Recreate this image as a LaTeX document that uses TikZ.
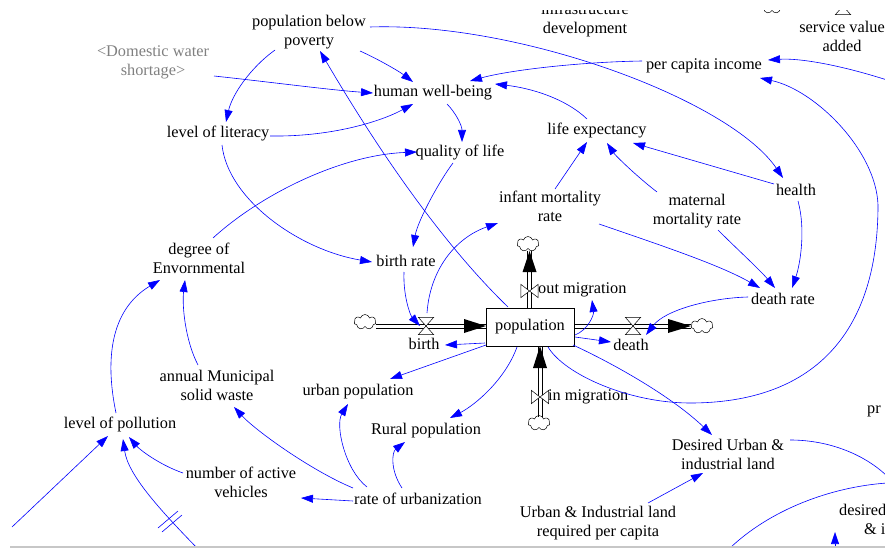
\documentclass[tikz,border=0pt]{standalone}
\usepackage{fontspec}
\setmainfont{Liberation Serif}
\usetikzlibrary{arrows.meta,shapes.symbols}
\definecolor{lnk}{RGB}{0,0,255}
\definecolor{grtxt}{RGB}{128,128,128}
\begin{document}
\begin{tikzpicture}[x=1pt,y=-1pt,
  lbl/.style={font=\fontsize{16.3}{19}\selectfont, align=center, inner sep=0pt},
  conn/.style={draw=lnk, line width=0.6pt, -{Triangle[length=12pt,width=8pt]}},
  link/.style={draw=lnk, line width=0.6pt},
  pipeedge/.style={draw=black, line width=0.7pt},
  valvel/.style={draw=black, fill=white, line width=0.5pt},
  hv/.style={inner sep=0pt, minimum width=15pt, minimum height=17pt},
  vv/.style={inner sep=0pt, minimum width=17pt, minimum height=13pt},
  cloudy/.style={cloud, cloud puffs=7, cloud ignores aspect, draw=black, line width=0.5pt, fill=white, inner sep=0pt, minimum width=22pt, minimum height=15pt},
  stockbox/.style={lbl, draw=black, line width=0.7pt, fill=white, minimum width=88pt, minimum height=38pt}]
\useasboundingbox (0,0) rectangle (885,548);
\clip (0,10.5) rectangle (885,548);

% labels
\node[lbl] (pbp) at (309,32) {population below\\poverty};
\node[lbl,text=grtxt] (dws) at (153,62) {<Domestic water\\shortage>};
\node[lbl] (hwb) at (433,93) {human well-being};
\node[lbl] (lol) at (218,134) {level of literacy};
\node[lbl] (qol) at (460,153) {quality of life};
\node[lbl] (le) at (597,131) {life expectancy};
\node[lbl] (pci) at (704,66) {per capita income};
\node[lbl] (infra) at (585,19.5) {infrastructure\\development};
\node[lbl] (sva) at (842,36) {service value\\added};
\node[lbl] (hl) at (796,190) {health};
\node[lbl] (mmr) at (697,211) {maternal\\mortality rate};
\node[lbl] (imr) at (550,206) {infant mortality\\rate};
\node[lbl] (dr) at (783,299) {death rate};
\node[lbl] (br) at (406,261) {birth rate};
\node[lbl] (doe) at (199,258) {degree of\\Envornmental};
\node[lbl] (up) at (358,392) {urban population};
\node[lbl] (rp) at (426,431) {Rural population};
\node[lbl] (amsw) at (217,385) {annual Municipal\\solid waste};
\node[lbl] (lop) at (120,424) {level of pollution};
\node[lbl] (nav) at (241,482) {number of active\\vehicles};
\node[lbl] (rou) at (418,499) {rate of urbanization};
\node[lbl] (uil) at (598,523) {Urban \& Industrial land\\required per capita};
\node[lbl] (dui) at (728,454) {Desired Urban \&\\industrial land};
\node[lbl,anchor=west] (prt) at (867,411) {pr};
\node[lbl,anchor=west] (des) at (839,510) {desired};
\node[lbl,anchor=west] (desi) at (864,529) {\& i};

% clouds, valves (frames), flow labels
\node[cloudy] (cL) at (365,322) {};
\node[cloudy] (cR) at (702,326) {};
\node[cloudy] (cT) at (528,244) {};
\node[cloudy] (cB) at (539,423) {};
\node[cloudy] (cTop) at (772,6) {};
\node[hv] (bv) at (426,326) {};
\node[hv] (dv) at (633,326) {};
\node[vv] (ov) at (529.5,291) {};
\node[vv] (iv) at (540,397) {};
\node[hv] (sv) at (843,6) {};
\node[lbl] (birth) at (424,344) {birth};
\node[lbl] (death) at (631,345) {death};
\node[lbl,anchor=west] (outm) at (538,290) {out migration};
\node[lbl,anchor=west] (inm) at (548,397) {in migration};

% pipe end points
\coordinate (pb1) at (376,326);
\coordinate (pb2) at (486,326);
\coordinate (pd1) at (574,326);
\coordinate (pd2) at (691,326);
\coordinate (po1) at (529.5,308);
\coordinate (po2) at (529.5,251);
\coordinate (pi1) at (540,417);
\coordinate (pi2) at (540,346);
\coordinate (ps1) at (783,6);
\coordinate (ps2) at (843,6);

% pipes: two parallel edges each
\foreach \a/\b in {pb1/pb2, pd1/pd2, ps1/ps2} {
  \draw[pipeedge] ([yshift=2.1pt]\a) -- ([yshift=2.1pt]\b);
  \draw[pipeedge] ([yshift=-2.1pt]\a) -- ([yshift=-2.1pt]\b);
}
\foreach \a/\b in {po1/po2, pi1/pi2} {
  \draw[pipeedge] ([xshift=2.1pt]\a) -- ([xshift=2.1pt]\b);
  \draw[pipeedge] ([xshift=-2.1pt]\a) -- ([xshift=-2.1pt]\b);
}
\node[stockbox] (pop) at (530,327) {population};
\filldraw[valvel] (bv.north west) -- (bv.north east) -- (bv.south west) -- (bv.south east) -- cycle;
\filldraw[valvel] (dv.north west) -- (dv.north east) -- (dv.south west) -- (dv.south east) -- cycle;
\filldraw[valvel] (sv.north west) -- (sv.north east) -- (sv.south west) -- (sv.south east) -- cycle;
\filldraw[valvel] (ov.north west) -- (ov.south west) -- (ov.north east) -- (ov.south east) -- cycle;
\filldraw[valvel] (iv.north west) -- (iv.south west) -- (iv.north east) -- (iv.south east) -- cycle;
\fill[black] (pb2) -- ++(-22,-7) -- ++(0,14) -- cycle;
\fill[black] (pd2) -- ++(-23,-7) -- ++(0,14) -- cycle;
\fill[black] (po2) -- ++(-7,21) -- ++(14,0) -- cycle;
\fill[black] (pi2) -- ++(-7,22) -- ++(14,0) -- cycle;

% free ends
\coordinate (r1) at (887,80);
\coordinate (r2) at (887,476);
\coordinate (r3) at (887,483);
\coordinate (b1) at (730,548);
\coordinate (b2) at (835,552);
\coordinate (b3) at (199,550);
\coordinate (bl1) at (12,527);
\coordinate (t1) at (786,-8);

% connectors
\draw[conn] ([shift={(51,19)}]pbp.center) .. controls (380,60) and (400,72) .. ([shift={(-20,-11)}]hwb.center);
\draw[conn] ([shift={(-34,18)}]pbp.center) .. controls (250,68) and (232,95) .. ([shift={(8,-12)}]lol.center);
\draw[conn] ([shift={(61,-5)}]pbp.center) .. controls (520,22) and (730,100) .. ([shift={(-13,-12)}]hl.center);
\draw[conn] ([shift={(61,14)}]dws.center) .. controls (270,82) and (330,90) .. ([shift={(-60,0)}]hwb.center);
\draw[conn] ([shift={(52,2)}]lol.center) .. controls (330,137) and (380,122) .. ([shift={(-20,11)}]hwb.center);
\draw[conn] ([shift={(4,11)}]lol.center) .. controls (228,200) and (300,250) .. ([shift={(-34,1)}]br.center);
\draw[conn] ([shift={(14,11)}]hwb.center) .. controls (455,112) and (462,125) .. ([shift={(2,-11)}]qol.center);
\draw[conn] ([shift={(14,-20)}]doe.center) .. controls (260,195) and (340,155) .. ([shift={(-43,-1)}]qol.center);
\draw[conn] ([shift={(-7,10)}]qol.center) .. controls (440,180) and (418,220) .. ([shift={(7,-14)}]br.center);
\draw[conn] ([shift={(-10,-12)}]le.center) .. controls (565,98) and (530,88) .. ([shift={(62,-9)}]hwb.center);
\draw[conn] ([shift={(-62,-5)}]pci.center) .. controls (580,62) and (510,70) .. ([shift={(37,-12)}]hwb.center);
\draw[conn] ([shift={(5,-17)}]imr.center) -- ([shift={(-10,11)}]le.center);
\draw[conn] ([shift={(-40,-19)}]mmr.center) .. controls (635,175) and (615,155) .. ([shift={(10,12)}]le.center);
\draw[conn] ([shift={(-22,-6)}]hl.center) -- ([shift={(36,12)}]le.center);
\draw[conn] ([shift={(2,11)}]hl.center) .. controls (806,230) and (800,265) .. ([shift={(9,-11)}]dr.center);
\draw[conn] ([shift={(21,19)}]mmr.center) .. controls (738,250) and (760,270) .. ([shift={(-8,-11)}]dr.center);
\draw[conn] ([shift={(49,18)}]imr.center) .. controls (660,245) and (720,265) .. ([shift={(-23,-11)}]dr.center);
\draw[conn] ([shift={(-35,-2)}]dr.center) .. controls (710,298) and (665,310) .. ([shift={(13,9)}]dv.center);
\draw[conn] (r1) .. controls (840,65) and (800,58) .. ([shift={(64,-6)}]pci.center);
\draw[conn] ([shift={(18,20)}]pop.center) .. controls (565,375) and (630,403) .. (690,403) .. controls (812,403) and (878,335) .. (878,205) .. controls (876,150) and (815,90) .. ([shift={(56,12)}]pci.center);
\draw[conn] ([shift={(43,18)}]pop.center) .. controls (610,362) and (670,395) .. ([shift={(-16,-19)}]dui.center);
\draw[conn] ([shift={(50,-20)}]uil.center) -- ([shift={(-25,19)}]dui.center);
\draw[link] ([shift={(62,-14)}]dui.center) .. controls (830,440) and (865,455) .. (r2);
\draw[link] (b1) .. controls (770,510) and (830,487) .. (r3);
\draw[conn] (b2) -- ([shift={(-4,22)}]des.west);
\draw[conn] (t1) -- ([shift={(-39,-20)}]sv.center);
\draw[conn] ([shift={(-45,16)}]pop.center) -- ([shift={(21,1)}]birth.center);
\draw[conn] ([shift={(-44,18)}]pop.center) -- ([shift={(32,-13)}]up.center);
\draw[conn] ([shift={(-13,20)}]pop.center) .. controls (505,380) and (475,405) .. ([shift={(24,-13)}]rp.center);
\draw[conn] ([shift={(-2,11)}]br.center) .. controls (403,295) and (410,315) .. ([shift={(-6,0)}]bv.center);
\draw[conn] ([shift={(1,-13)}]bv.center) .. controls (430,270) and (455,238) .. ([shift={(-52,17)}]imr.center);
\draw[conn] ([shift={(-22,-20)}]pop.center) .. controls (451,252) and (388,167) .. ([shift={(11,19)}]pbp.center);
\draw[conn] ([shift={(45,8)}]pop.center) .. controls (588,330) and (594,315) .. ([shift={(54,10)}]outm.west);
\draw[conn] ([shift={(45,10)}]pop.center) -- ([shift={(-20,-3)}]death.center);
\draw[conn] ([shift={(-51,-12)}]rou.center) .. controls (345,470) and (335,425) .. ([shift={(-10,12)}]up.center);
\draw[conn] ([shift={(-16,-11)}]rou.center) .. controls (390,470) and (392,452) .. ([shift={(-21,11)}]rp.center);
\draw[conn] ([shift={(-65,2)}]rou.center) -- ([shift={(60,16)}]nav.center);
\draw[conn] ([shift={(-65,-11)}]rou.center) .. controls (310,470) and (255,430) .. ([shift={(17,22)}]amsw.center);
\draw[conn] ([shift={(-19,-20)}]amsw.center) .. controls (185,340) and (182,305) .. ([shift={(-14,22)}]doe.center);
\draw[conn] ([shift={(-4,-11)}]lop.center) .. controls (105,360) and (110,310) .. ([shift={(-39,22)}]doe.center);
\draw[conn] ([shift={(-58,-9)}]nav.center) .. controls (160,465) and (140,450) .. ([shift={(9,13)}]lop.center);
\draw[conn] (bl1) -- ([shift={(-12,12)}]lop.center);
\draw[conn] (b3) .. controls (160,510) and (128,475) .. ([shift={(3,15)}]lop.center);
\draw[link] (158,528) -- (178,511);
\draw[link] (162,532) -- (182,515);

% window edge
\draw[black!22, line width=2pt] (10,546.5) -- (885,546.5);
\end{tikzpicture}
\end{document}
